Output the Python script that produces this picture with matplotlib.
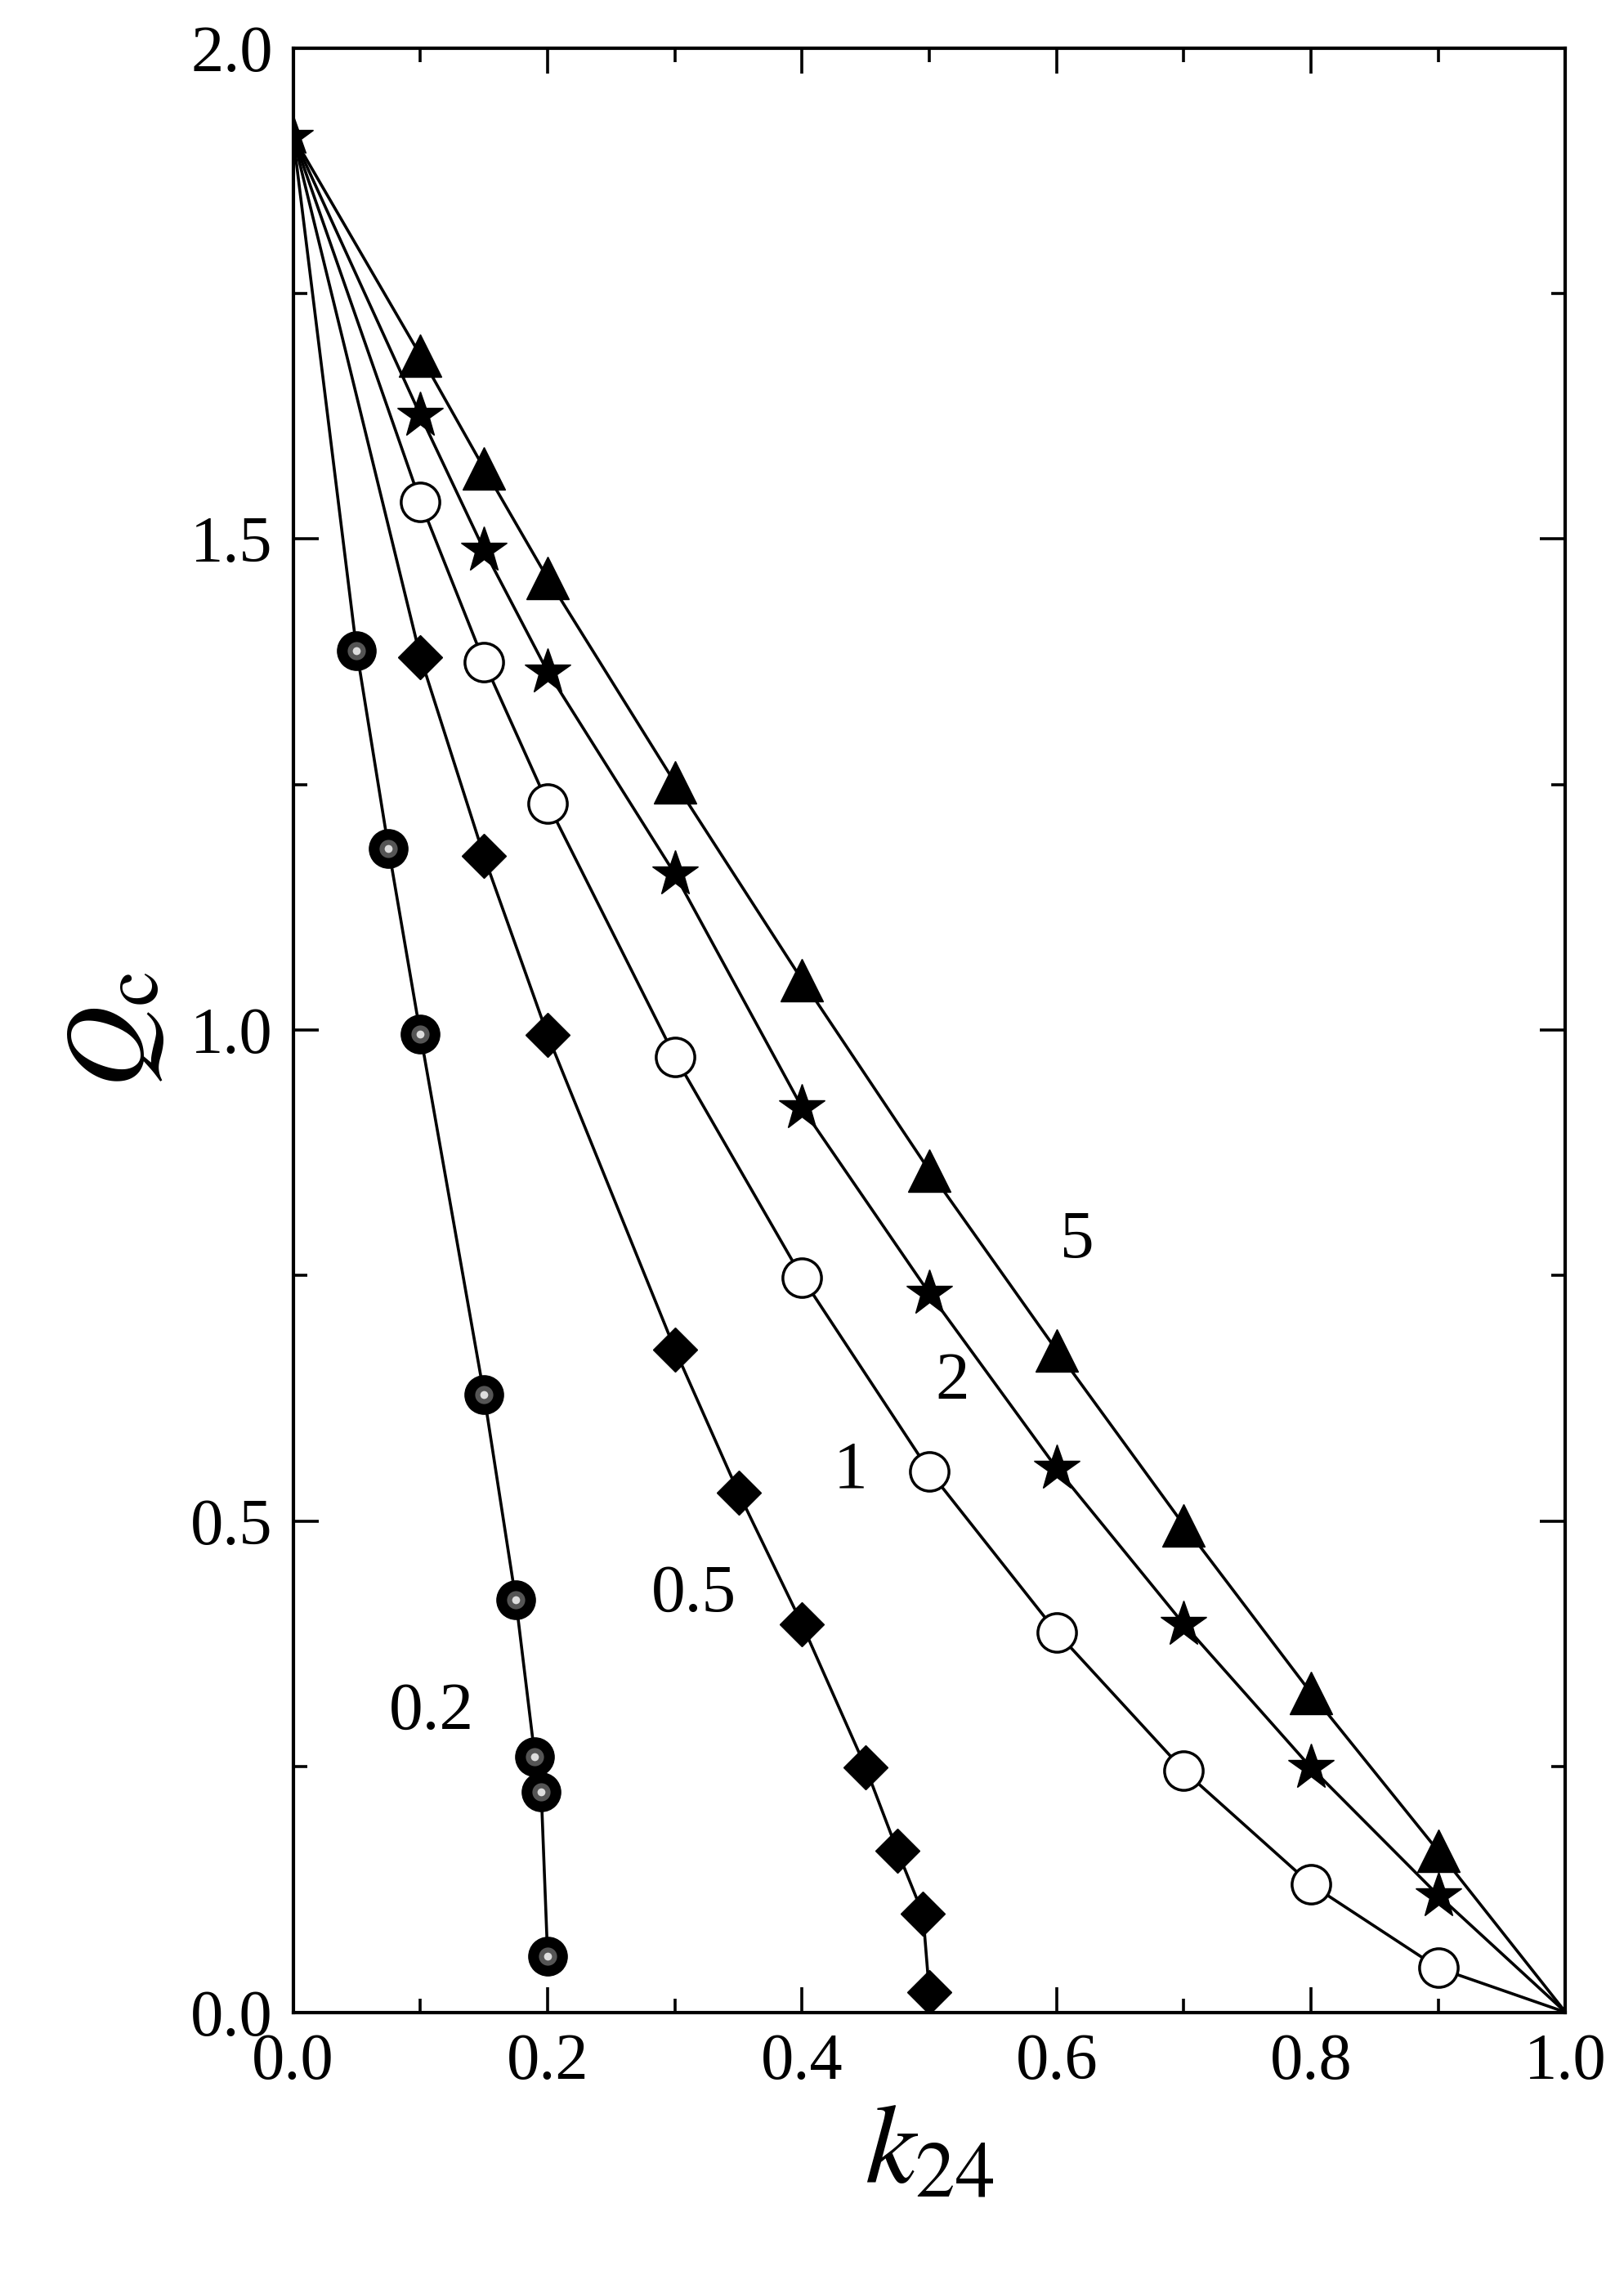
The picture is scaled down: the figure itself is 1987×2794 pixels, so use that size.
import numpy as np
import matplotlib.pyplot as plt
from matplotlib.ticker import MultipleLocator

plt.rcParams['font.family'] = ['Liberation Serif', 'DejaVu Serif']
plt.rcParams['mathtext.fontset'] = 'stix'

q0 = 1.91

# curve 0.2 (spheres)
k_02 = [0.05, 0.075, 0.1, 0.15, 0.175, 0.19, 0.195, 0.2]
q_02 = [1.386, 1.185, 0.996, 0.629, 0.42, 0.26, 0.224, 0.057]
# curve 0.5 (diamonds)
k_05 = [0.1, 0.15, 0.2, 0.3, 0.35, 0.4, 0.45, 0.475, 0.495, 0.5]
q_05 = [1.38, 1.177, 0.995, 0.675, 0.529, 0.395, 0.249, 0.164, 0.10, 0.02]
# curve 1 (open circles)
k_1 = [0.1, 0.15, 0.2, 0.3, 0.4, 0.5, 0.6, 0.7, 0.8, 0.9]
q_1 = [1.538, 1.375, 1.231, 0.973, 0.748, 0.551, 0.387, 0.246, 0.13, 0.045]
# curve 2 (stars)
k_2 = [0.1, 0.15, 0.2, 0.3, 0.4, 0.5, 0.6, 0.7, 0.8, 0.9]
q_2 = [1.626, 1.489, 1.365, 1.159, 0.921, 0.732, 0.554, 0.395, 0.249, 0.119]
# curve 5 (triangles)
k_5 = [0.1, 0.15, 0.2, 0.3, 0.4, 0.5, 0.6, 0.7, 0.8, 0.9]
q_5 = [1.687, 1.572, 1.46, 1.252, 1.051, 0.857, 0.674, 0.496, 0.325, 0.164]

labels = ['5', '2', '1', '0.5', '0.2']
label_x = [0.616, 0.518, 0.438, 0.315, 0.109]
label_y = [0.785, 0.641, 0.551, 0.425, 0.305]

fig = plt.figure(figsize=(19.87, 27.94), dpi=100)
ax = fig.add_axes([0.1805, 0.119, 0.7835, 0.86])

lw = 2.6
ax.plot([0] + k_02, [q0] + q_02, '-', color='black', lw=lw)
ax.plot([0] + k_05, [q0] + q_05, '-', color='black', lw=lw)
ax.plot([0] + k_1 + [1], [q0] + q_1 + [0], '-', color='black', lw=lw)
ax.plot([0] + k_2 + [1], [q0] + q_2 + [0], '-', color='black', lw=lw)
ax.plot([0] + k_5 + [1], [q0] + q_5 + [0], '-', color='black', lw=lw)

# markers
ax.plot(k_02, q_02, 'o', ms=34, color='black', zorder=3)
ax.plot(k_02, q_02, 'o', ms=16, color='#555555', zorder=4, mew=0)
ax.plot(k_02, q_02, 'o', ms=7, color='#dddddd', zorder=5, mew=0)
ax.plot(k_05, q_05, 'D', ms=28, color='black', zorder=3)
ax.plot(k_1, q_1, 'o', ms=34, mfc='white', mec='black', mew=2.5, zorder=3)
ax.plot(k_2, q_2, '*', ms=42, color='black', zorder=3)
ax.plot(k_5, q_5, '^', ms=38, color='black', zorder=3)
ax.plot([0], [q0], '*', ms=36, color='black', zorder=3)
ax.plot([1], [0], '^', ms=16, color='black', zorder=3)

for t, x, y in zip(labels, label_x, label_y):
    ax.text(x, y, t, fontsize=60, ha='center', va='center')

ax.set_xlim(0, 1)
ax.set_ylim(0, 2)
ax.xaxis.set_major_locator(MultipleLocator(0.2))
ax.xaxis.set_minor_locator(MultipleLocator(0.1))
ax.yaxis.set_major_locator(MultipleLocator(0.5))
ax.yaxis.set_minor_locator(MultipleLocator(0.25))
ax.xaxis.set_major_formatter(plt.FormatStrFormatter('%.1f'))
ax.yaxis.set_major_formatter(plt.FormatStrFormatter('%.1f'))
ax.tick_params(which='both', direction='in', top=True, right=True,
               width=2.6, labelsize=58, pad=18)
ax.tick_params(which='major', length=22)
ax.tick_params(which='minor', length=12)
for s in ax.spines.values():
    s.set_linewidth(3)

ax.set_xlabel(r'$k_{24}$', fontsize=100, labelpad=10)
ax.set_ylabel(r'$Q_{\mathrm{c}}$', fontsize=100, labelpad=20)

fig.savefig('out.png', dpi=100)
